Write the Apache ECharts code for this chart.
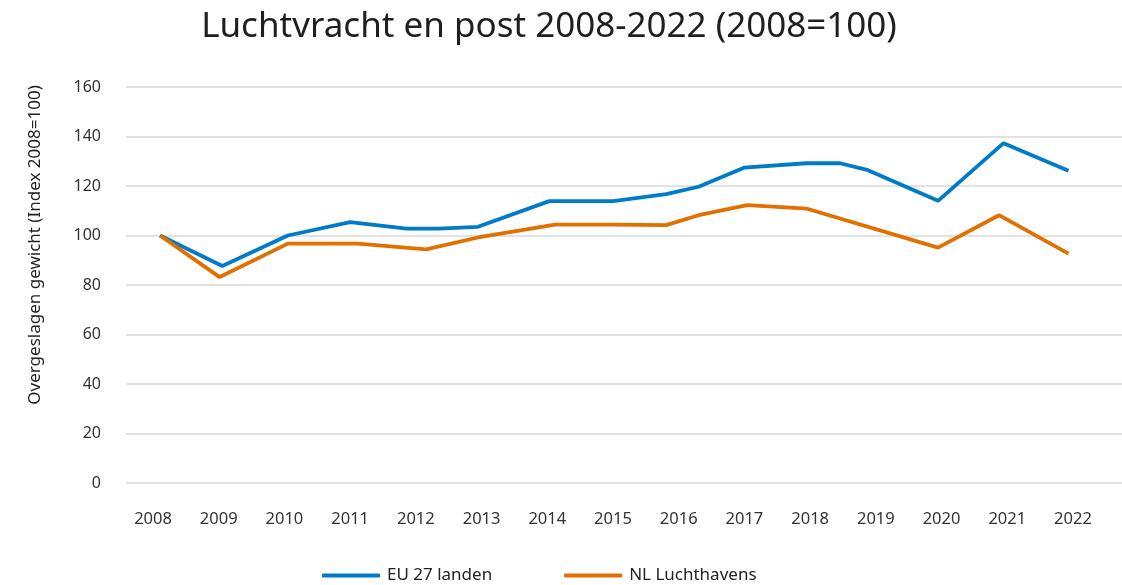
<!DOCTYPE html>
<html>
<head>
<meta charset="utf-8">
<script src="https://cdn.jsdelivr.net/npm/echarts@6/dist/echarts.min.js"></script>
<style>
html,body{margin:0;padding:0;background:#fff;}
#chart{width:1122px;height:585px;}
</style>
</head>
<body>
<div id="chart"></div>
<script>
const titleText = 'Luchtvracht en post 2008-2022 (2008=100)';
const yAxisName = 'Overgeslagen gewicht (Index 2008=100)';
const yearLabels = [2008,2009,2010,2011,2012,2013,2014,2015,2016,2017,2018,2019,2020,2021,2022];
const seriesNames = ['EU 27 landen', 'NL Luchthavens'];

const euYears  = [2008, 2008.96, 2009.97, 2010.93, 2011.8, 2012.3, 2012.9, 2014, 2014.98, 2015.8, 2016.3, 2017, 2017.96, 2018.48, 2018.91, 2019.99, 2021, 2022];
const euValues = [100, 87.7, 100, 105.4, 102.8, 102.8, 103.5, 113.9, 113.9, 116.7, 119.7, 127.4, 129.2, 129.2, 126.4, 114.0, 137.3, 126.2];

const nlYears  = [2008, 2008.92, 2009.97, 2011.05, 2012.1, 2012.9, 2014.09, 2014.98, 2015.8, 2016.3, 2017.05, 2017.96, 2019.99, 2020.93, 2022];
const nlValues = [100, 83.2, 96.7, 96.7, 94.4, 99.2, 104.4, 104.4, 104.2, 108.2, 112.3, 110.9, 95.1, 108.2, 92.7];

const FONT = 'Noto Sans';
const chart = echarts.init(document.getElementById('chart'), null, {renderer:'canvas'});

function pairs(xs, ys){ return xs.map((x,i)=>[x, ys[i]]); }

chart.setOption({
  animation:false,
  backgroundColor:'#fff',
  title:{
    text:titleText,
    left:544, top:5, textAlign:'center',
    textStyle:{fontFamily:FONT, fontSize:35, fontWeight:'normal', color:'#1f1f1f'}
  },
  graphic:[{
    type:'text',
    x:35, y:245,
    rotation:Math.PI/2,
    style:{
      text:yAxisName,
      font:'17px "Noto Sans"',
      fill:'#222',
      textAlign:'center',
      textVerticalAlign:'middle'
    }
  }],
  legend:{
    bottom:-4, left:317,
    itemWidth:58, itemHeight:4, itemGap:72,
    icon:'roundRect',
    textStyle:{fontFamily:FONT, fontSize:17, color:'#222', padding:[0,0,0,2]},
    data:seriesNames
  },
  grid:{left:126, right:0, top:87, bottom:102, containLabel:false},
  xAxis:[{
    type:'value',
    min:2007.476, max:2022.825,
    axisLine:{show:false},
    axisTick:{show:false},
    splitLine:{show:false},
    axisLabel:{show:false}
  },{
    type:'value',
    position:'bottom',
    min:2007.589, max:2022.746,
    axisLine:{show:false},
    axisTick:{show:false},
    splitLine:{show:false},
    axisLabel:{
      customValues:yearLabels,
      margin:28,
      fontFamily:FONT, fontSize:16.5, color:'#333',
      formatter:v=>String(Math.round(v))
    }
  }],
  yAxis:{
    type:'value',
    min:0, max:160, interval:20,
    axisLine:{show:false},
    axisTick:{show:false},
    splitLine:{lineStyle:{color:'#d9d9d9', width:1.5}},
    axisLabel:{margin:25, fontFamily:FONT, fontSize:16, color:'#333'}
  },
  series:[
    {name:seriesNames[0], type:'line', xAxisIndex:0, symbol:'none', data:pairs(euYears, euValues),
     lineStyle:{color:'#007BC7', width:3.8}, itemStyle:{color:'#007BC7'}},
    {name:seriesNames[1], type:'line', xAxisIndex:0, symbol:'none', data:pairs(nlYears, nlValues),
     lineStyle:{color:'#E17000', width:3.8}, itemStyle:{color:'#E17000'}}
  ]
});
</script>
</body>
</html>
